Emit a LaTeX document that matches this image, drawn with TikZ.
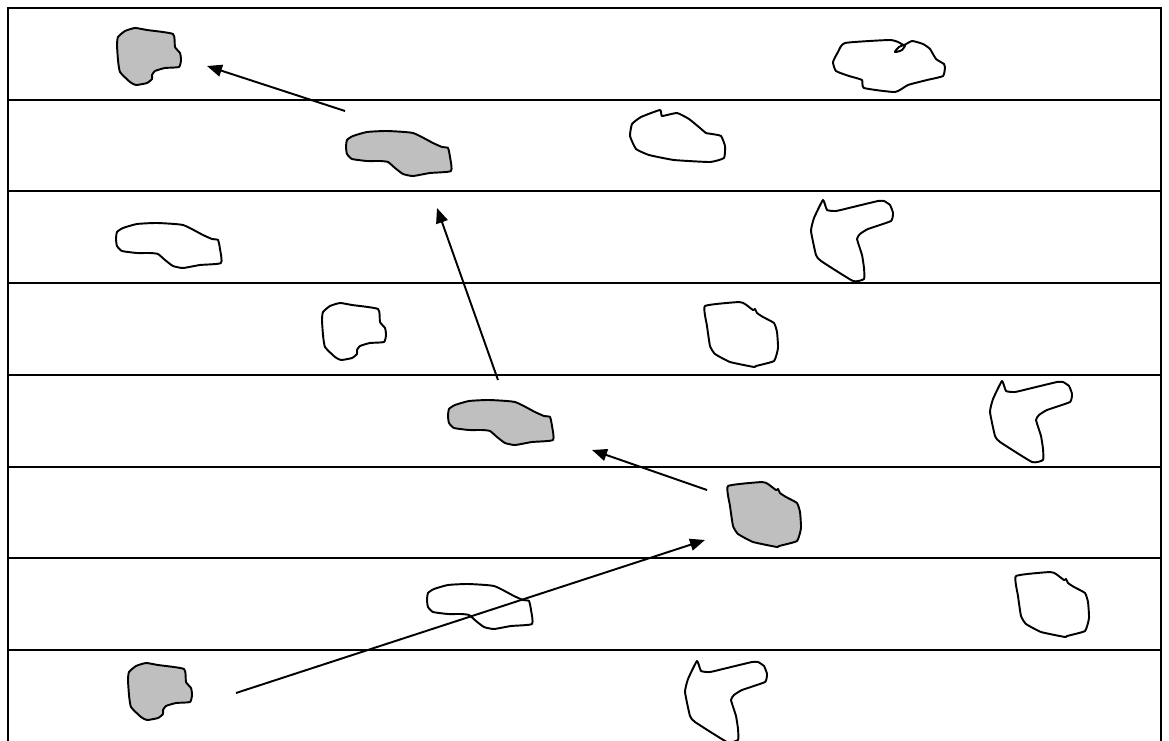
\documentclass[tikz,border=0pt]{standalone}
\usetikzlibrary{arrows.meta}

\tikzset{
  lane/.style={line width=1.4pt},
  outline/.style={draw, line width=1.1pt, line join=round},
  shaded/.style={outline, fill=black!25},
  move/.style={line width=1.1pt, -{Triangle[length=0.3cm, width=0.24cm]}},
  blob/.pic={\path[pic actions] plot[smooth cycle, tension=0.3] coordinates {(8,3) (18,0) (30,2) (56,6) (58,19) (63,25) (64,32) (62,39) (48,40) (38,43) (35,47) (35,51) (30,55) (19,57) (13,54) (3,44) (1,32) (0,17) (1,9)};},
  bean/.pic={\path[pic actions] plot[smooth cycle, tension=0.3] coordinates {(2,10) (8,6) (22,2) (42,1) (68,3) (88,13) (97,17) (103,18) (105,27) (106,41) (85,43) (68,46) (58,44) (50,38) (43,32) (35,31) (22,31) (7,29) (2,24) (1,17)};},
  hook/.pic={\path[pic actions] plot[smooth cycle, tension=0.25] coordinates {(13,0) (17,10) (26,11) (43,7) (68,1) (74,1) (80,5) (83,13) (81,21) (58,29) (50,34) (47,39) (52,55) (54,68) (54,79) (43,81) (11,61) (6,55) (1,31) (4,18)};},
  pent/.pic={\path[pic actions] plot[smooth cycle, tension=0.25] coordinates {(0,4) (34,0) (40,2) (48,8) (50,7) (52,11) (58,15) (69,21) (72,30) (73,46) (69,59) (51,64) (49,65) (25,60) (10,52) (5,44) (2,24)};},
  cloud/.pic={\path[pic actions] plot[smooth cycle, tension=0.3] coordinates {(12,3) (56,0) (65,2) (71,5) (79,1) (90,4) (97,9) (103,19) (111,24) (112,27) (110,36) (94,40) (75,45) (62,52) (31,48) (29,40) (16,36) (3,31) (0,22) (5,12)};
    \path[pic actions] plot[smooth cycle, tension=0.5] coordinates {(62,12) (66,7) (72,5) (69,10)};},
  notch/.pic={\path[pic actions] plot[smooth cycle, tension=0.25] coordinates {(2,14) (11,7) (30,0) (32,6) (47,3) (59,9) (70,18) (76,23) (82,24) (91,26) (95,36) (94,48) (80,52) (44,50) (19,45) (6,39) (0,26)};}
}

\begin{document}
\begin{tikzpicture}[x=0.02cm, y=-0.02cm]
\useasboundingbox (0,0) rectangle (1169,740);
% lanes
\draw[lane] (8,742) -- (8,8) -- (1161,8) -- (1161,742);
\foreach \y in {100,191,283,375,467,558,650}
  \draw[lane] (8,\y) -- (1161,\y);

% lane 1
\pic[shaded] at (117,28) {blob};
\pic[outline] at (833,40) {cloud};
% lane 2
\pic[shaded] at (345,130) {bean};
\pic[outline] at (630,110) {notch};
% lane 3
\pic[outline] at (115,222) {bean};
\pic[outline] at (810,200) {hook};
% lane 4
\pic[outline] at (322,303) {blob};
\pic[outline] at (705,302) {pent};
% lane 5
\pic[shaded] at (447,399) {bean};
\pic[outline] at (989,381) {hook};
% lane 6
\pic[shaded] at (728,482) {pent};
% lane 7
\pic[outline] at (426,583) {bean};
\pic[outline] at (1016,572) {pent};
% lane 8
\pic[shaded] at (128,663) {blob};
\pic[outline] at (684,661) {hook};

% moves
\coordinate (s1) at (236,693);
\coordinate (t1) at (705,540);
\coordinate (s2) at (707,490);
\coordinate (t2) at (592,450);
\coordinate (s3) at (498,380);
\coordinate (t3) at (437,208);
\coordinate (s4) at (345,111);
\coordinate (t4) at (207,66);
\draw[move] (s1) -- (t1);
\draw[move] (s2) -- (t2);
\draw[move] (s3) -- (t3);
\draw[move] (s4) -- (t4);
\end{tikzpicture}
\end{document}
